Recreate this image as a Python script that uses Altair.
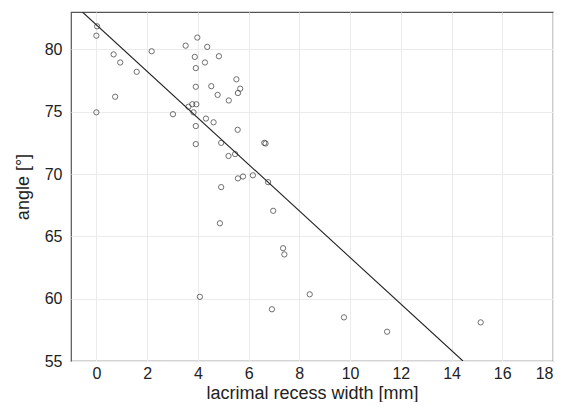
import altair as alt
import pandas as pd

# lacrimal recess width [mm]
width_mm = [0.03, 0.0, 0.68, 0.94, 1.59, 0.74, 0.0, 2.18, 3.52, 3.98,
            4.37, 4.83, 3.88, 4.28, 3.92, 5.52, 5.67, 5.58, 3.92, 4.53,
            4.78, 5.22, 3.78, 3.94, 3.63, 3.83, 3.02, 4.32, 4.62, 3.92,
            5.57, 3.92, 4.92, 6.62, 6.67, 5.21, 5.47, 5.58, 5.78, 6.17,
            6.77, 4.92, 6.97, 4.87, 7.36, 7.41, 4.08, 8.41, 6.92, 9.76,
            11.46, 15.15]
# angle [°]
angle_deg = [81.85, 81.1, 79.6, 78.95, 78.2, 76.2, 74.95, 79.85, 80.3, 80.95,
             80.2, 79.45, 79.4, 78.95, 78.5, 77.6, 76.85, 76.5, 77.0, 77.05,
             76.35, 75.9, 75.6, 75.6, 75.4, 74.95, 74.8, 74.45, 74.15, 73.85,
             73.55, 72.4, 72.5, 72.5, 72.45, 71.45, 71.6, 69.65, 69.8, 69.9,
             69.35, 68.95, 67.05, 66.05, 64.05, 63.55, 60.15, 60.35, 59.15, 58.5,
             57.35, 58.1]

# fitted regression line end points
line_x = [-0.55, 14.45]
line_y = [83.0, 55.0]

x_ticks = [0, 2, 4, 6, 8, 10, 12, 14, 16, 18]
y_ticks = [55, 60, 65, 70, 75, 80]

pts = pd.DataFrame({"w": width_mm, "a": angle_deg})
fit = pd.DataFrame({"w": line_x, "a": line_y})

xscale = alt.Scale(domain=[-1, 18], nice=False, zero=False)
yscale = alt.Scale(domain=[55, 83], nice=False, zero=False)

xaxis = alt.Axis(values=x_ticks, title="lacrimal recess width [mm]", domain=False,
                 ticks=False, labelPadding=4, titlePadding=3, format="d")
yaxis = alt.Axis(values=y_ticks, title="angle [°]", domain=False, ticks=False,
                 labelPadding=9, titlePadding=12, format="d")

points = alt.Chart(pts).mark_point(
    shape="circle", filled=False, size=28, color="#333333", strokeWidth=1
).encode(
    x=alt.X("w:Q", scale=xscale, axis=xaxis),
    y=alt.Y("a:Q", scale=yscale, axis=yaxis),
)

line = alt.Chart(fit).mark_line(color="#222222", strokeWidth=1.1, clip=True).encode(
    x=alt.X("w:Q", scale=xscale),
    y=alt.Y("a:Q", scale=yscale),
)

chart = (points + line).properties(
    width=482, height=349,
    padding={"top": 4, "left": 6, "right": 4, "bottom": 0},
).configure_view(
    stroke="#555555", strokeWidth=1.2
).configure_axis(
    grid=True, gridColor="#ebebeb", gridWidth=1,
    labelFont="Liberation Sans", labelFontSize=16, labelColor="#222222",
    titleFont="Liberation Sans", titleFontSize=18, titleFontWeight="normal",
    titleColor="#222222",
)

chart.save("out.html", embed_options={"renderer": "svg", "actions": False})
